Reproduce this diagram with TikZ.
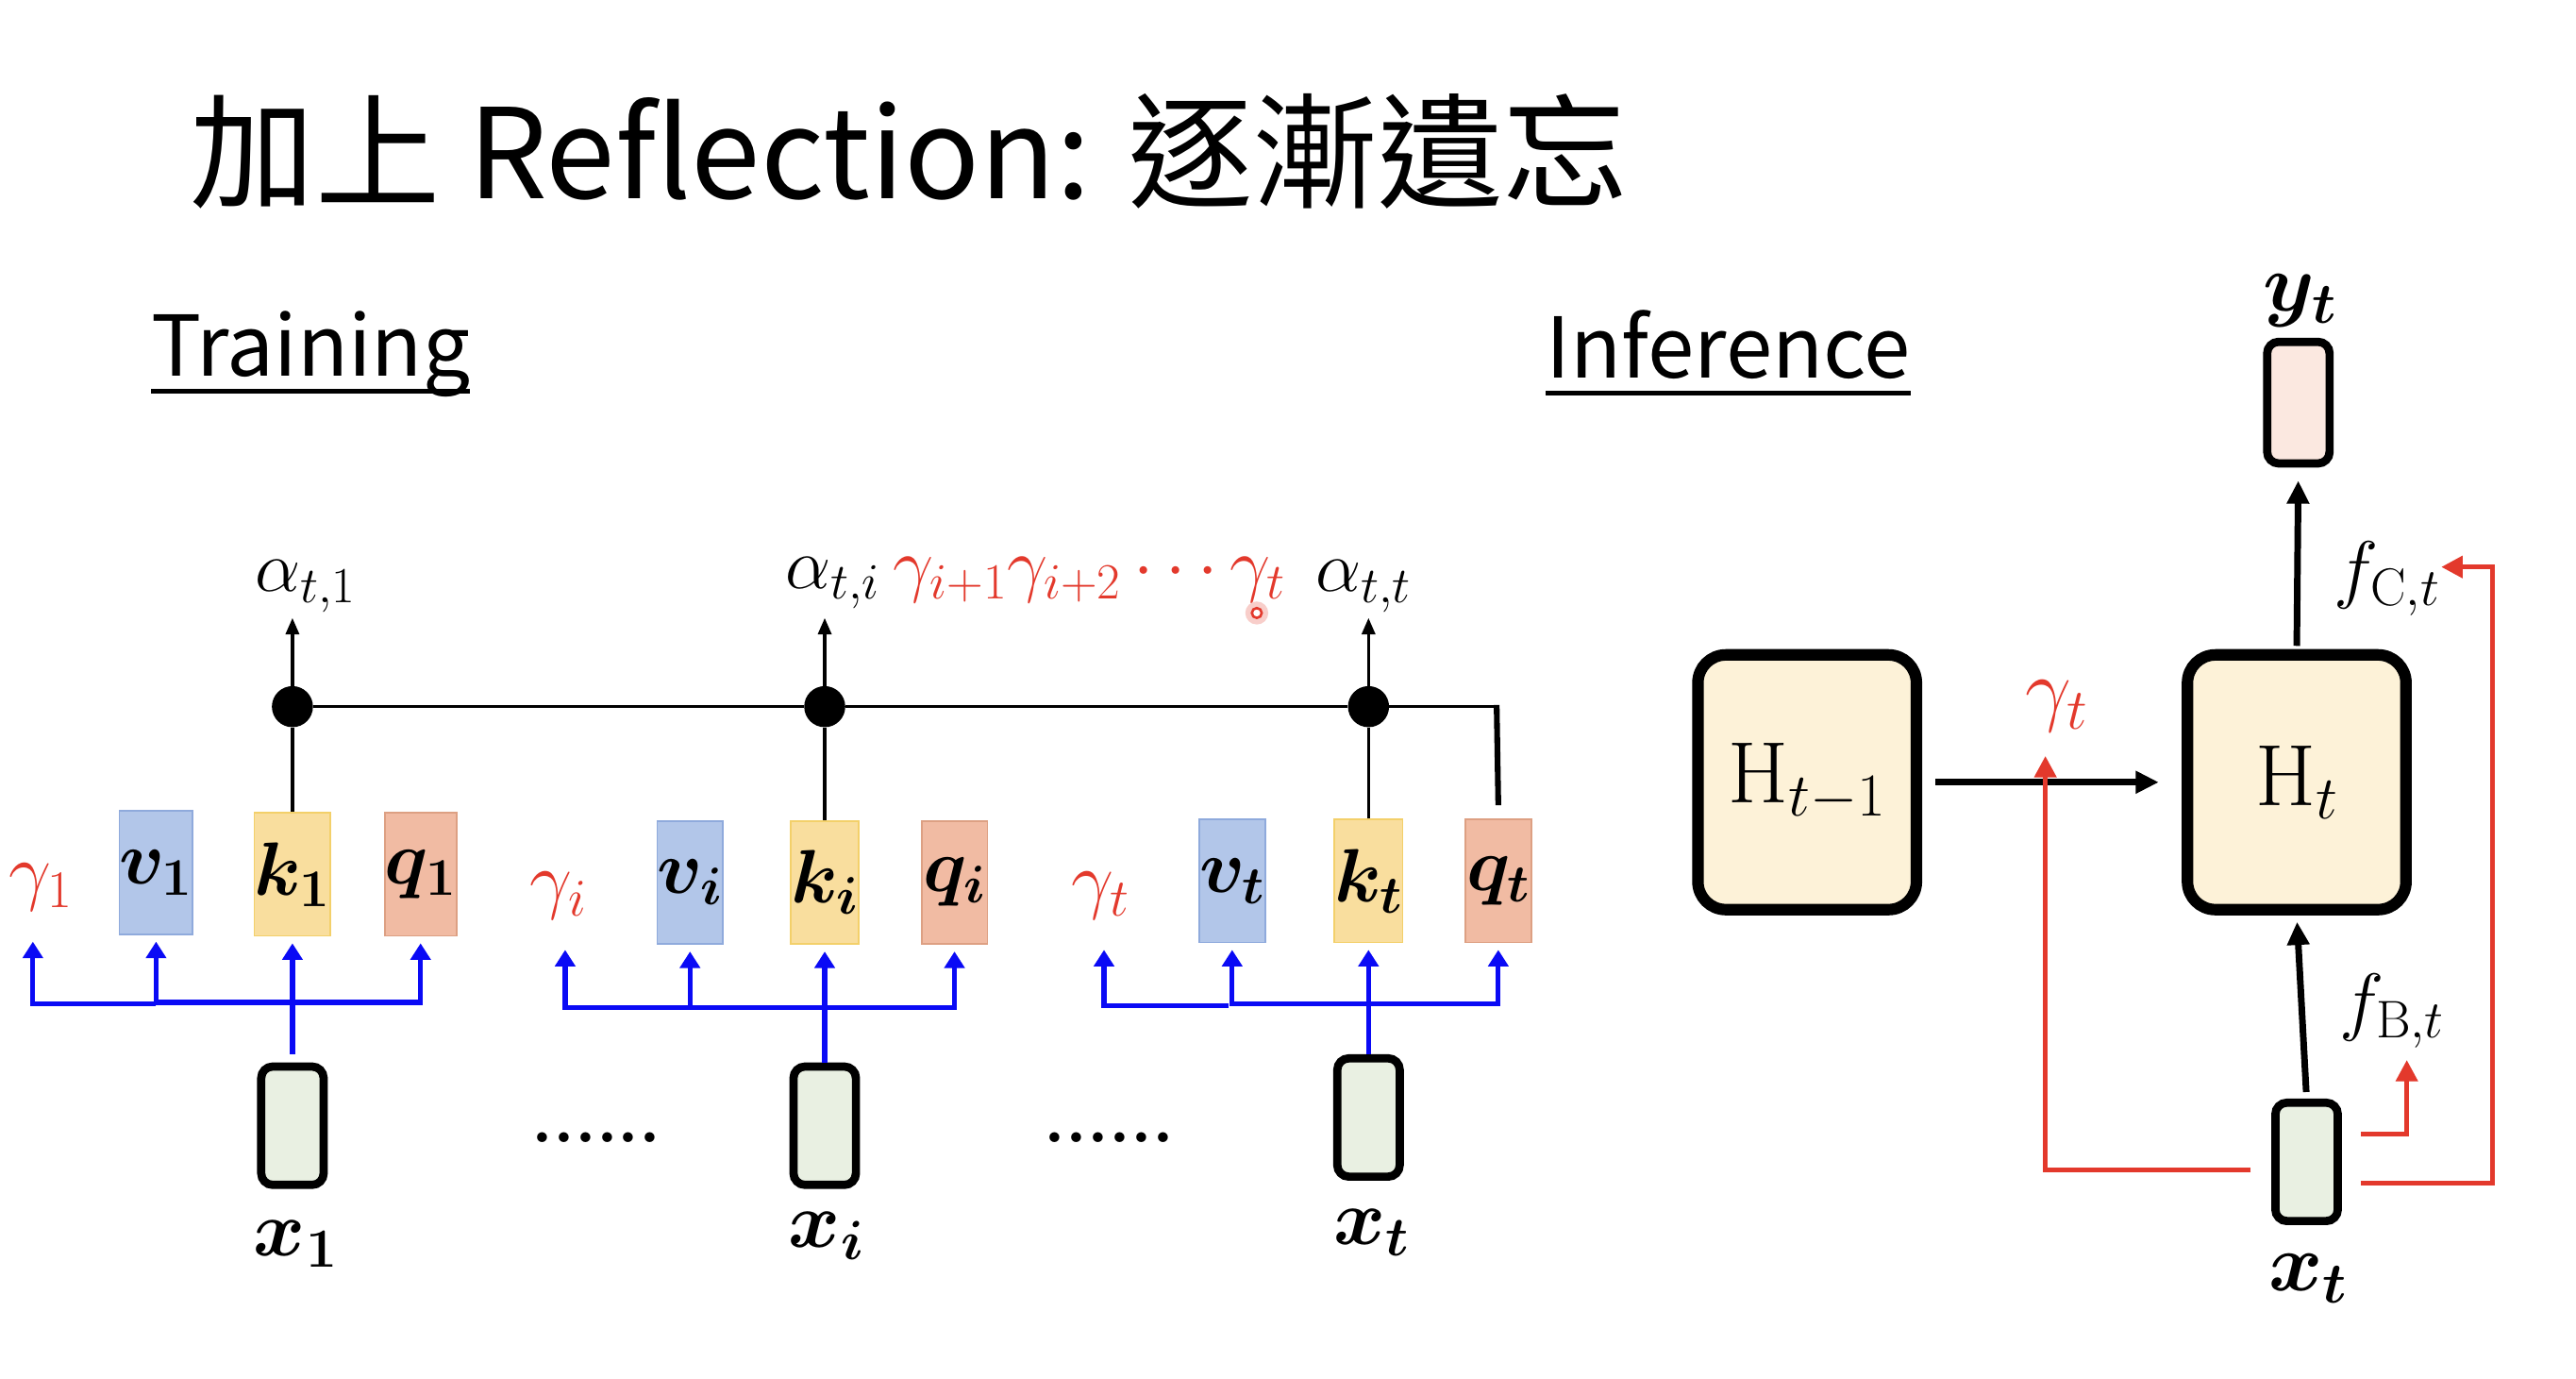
\RequirePackage{fix-cm}
\documentclass[tikz,border=0pt]{standalone}
\usepackage{amsmath,bm}
\usepackage{fontspec}
\newfontfamily\cjk{Noto Sans CJK TC}
\usetikzlibrary{arrows.meta,calc}
\definecolor{pred}{HTML}{E3392C}
\definecolor{pblue}{HTML}{0A0AF5}
\definecolor{vfill}{HTML}{B2C6E9}
\definecolor{vdraw}{HTML}{8FAADC}
\definecolor{kfill}{HTML}{F9DE9E}
\definecolor{kdraw}{HTML}{F3D06A}
\definecolor{qfill}{HTML}{F1BBA3}
\definecolor{qdraw}{HTML}{DDA083}
\definecolor{xfill}{HTML}{E9F0E2}
\definecolor{hfill}{HTML}{FDF2D8}
\definecolor{yfill}{HTML}{FBE8E0}
\begin{document}
\begin{tikzpicture}[x=1pt,y=-1pt,
  txt/.style={inner sep=0pt,outer sep=0pt},
  mbox/.style={line width=1pt,minimum width=40pt,minimum height=75pt,inner sep=0pt,
    font=\fontsize{46}{48}\selectfont},
  vbox/.style={mbox,draw=vdraw,fill=vfill},
  kbox/.style={mbox,draw=kdraw,fill=kfill},
  qbox/.style={mbox,draw=qdraw,fill=qfill},
  xbox/.style={draw=black,fill=xfill,line width=5pt,rounded corners=7pt,minimum width=38pt,minimum height=72pt,inner sep=0pt},
  hbox/.style={draw=black,fill=hfill,line width=7pt,rounded corners=17pt,minimum width=133pt,minimum height=155pt,inner sep=0pt,
    font=\fontsize{53}{55}\selectfont},
  dotn/.style={circle,fill=black,minimum width=25pt,minimum height=23pt,inner sep=0pt},
  glab/.style={txt,text=pred,font=\fontsize{46}{48}\selectfont},
  mlab/.style={txt,font=\fontsize{48}{50}\selectfont},
  alab/.style={txt,font=\fontsize{44}{46}\selectfont},
  blk/.style={line width=2pt,draw=black},
  blarrow/.style={line width=2pt,-{Triangle[length=10pt,width=8pt]}},
  bluearrow/.style={line width=3pt,draw=pblue,-{Triangle[length=10pt,width=12pt]}},
  blueline/.style={line width=3pt,draw=pblue},
  bigarrow/.style={line width=4pt,-{Triangle[length=14pt,width=13pt]}},
  redarrow/.style={line width=3pt,draw=pred,-{Triangle[length=13pt,width=13pt]}},
]
\path[use as bounding box,fill=white] (0,0) rectangle (1568,839);

% titles
\node[txt,anchor=base west,font=\cjk\fontsize{76}{80}\selectfont] (title) at (116,121) {加上 Reflection: 逐漸遺忘};
\node[txt,anchor=base west,font=\cjk\fontsize{51}{56}\selectfont] (train) at (92,229) {Training};
\draw[line width=3pt] ([yshift=-9pt]train.base west) -- ([yshift=-9pt]train.base east);
\node[txt,anchor=base west,font=\cjk\fontsize{51}{56}\selectfont] (infer) at (941,230) {Inference};
\draw[line width=3pt] ([yshift=-9pt]infer.base west) -- ([yshift=-9pt]infer.base east);

% ---------- group 1
\node[glab] (g1) at (25,540) {$\gamma_1$};
\node[vbox] (v1) at (95,531) {$\bm{v}_{\bm{1}}$};
\node[kbox] (k1) at (178,532) {$\bm{k}_{\bm{1}}$};
\node[qbox] (q1) at (256,532) {$\bm{q}_{\bm{1}}$};
\node[xbox] (x1) at (178,685) {};
\node[mlab] (x1l) at (180,757) {$\bm{x}_{\bm{1}}$};
\coordinate (b1) at (178,610);
\coordinate (s1) at (95,611);
\draw[blueline] (x1.north) ++(0,-5) -- (b1);
\draw[bluearrow,shorten >=4pt] (b1) -| (v1.south);
\draw[bluearrow,shorten >=4pt] (b1) -- (k1.south);
\draw[bluearrow,shorten >=4pt] (b1) -| (q1.south);
\draw[bluearrow] (s1) -| (20,573);

% ---------- group i
\node[glab] (gi) at (340,545) {$\gamma_i$};
\node[vbox] (vi) at (420,537) {$\bm{v}_{\bm{i}}$};
\node[kbox] (ki) at (502,537) {$\bm{k}_{\bm{i}}$};
\node[qbox] (qi) at (581,537) {$\bm{q}_{\bm{i}}$};
\node[xbox] (xi) at (502,685) {};
\node[mlab] (xil) at (503,752) {$\bm{x}_{\bm{i}}$};
\coordinate (bi) at (502,613);
\draw[blueline] (xi.north) -- (bi);
\draw[bluearrow,shorten >=4pt] (bi) -| (vi.south);
\draw[bluearrow,shorten >=4pt] (bi) -- (ki.south);
\draw[bluearrow,shorten >=4pt] (bi) -| (qi.south);
\draw[bluearrow] (bi) -| (344,578);

% ---------- group t
\node[glab] (gt) at (670,545) {$\gamma_t$};
\node[vbox] (vt) at (750,536) {$\bm{v}_{\bm{t}}$};
\node[kbox] (kt) at (833,536) {$\bm{k}_{\bm{t}}$};
\node[qbox] (qt) at (912,536) {$\bm{q}_{\bm{t}}$};
\node[xbox] (xt) at (833,680) {};
\node[mlab] (xtl) at (835,750) {$\bm{x}_{\bm{t}}$};
\coordinate (bt) at (833,611);
\coordinate (st) at (748,612);
\draw[blueline] (xt.north) -- (bt);
\draw[bluearrow,shorten >=4pt] (bt) -| (vt.south);
\draw[bluearrow,shorten >=4pt] (bt) -- (kt.south);
\draw[bluearrow,shorten >=4pt] (bt) -| (qt.south);
\draw[bluearrow] (st) -| (672,578);

% ellipses
\node[txt,font=\fontsize{42}{44}\selectfont\bfseries] (e1) at (363,692) {......};
\node[txt,font=\fontsize{42}{44}\selectfont\bfseries] (e2) at (675,692) {......};

% attention line
\node[dotn] (d1) at (178,430) {};
\node[dotn] (d2) at (502,430) {};
\node[dotn] (d3) at (833,430) {};
\draw[blk] (k1.north) -- (d1);
\draw[blk] (ki.north) -- (d2);
\draw[blk] (kt.north) -- (d3);
\draw[blk] (d1) -- (d2) -- (d3) -- (911,430);
\draw[line width=3.5pt] (911,429) -- ($(qt.north)+(0,-8)$);

\node[alab,anchor=base] (a1) at (186,360) {$\alpha_{t,1}$};
\node[alab,anchor=base] (ai) at (507,358) {$\alpha_{t,i}$};
\node[alab,anchor=base] (att) at (830,360) {$\alpha_{t,t}$};
\node[alab,anchor=base west,text=pred] (prod) at ([xshift=8pt]ai.base east) {$\gamma_{i+1}\gamma_{i+2}\cdots\gamma_t$};
\draw[blarrow] (d1) -- (178,376);
\draw[blarrow] (d2) -- (502,376);
\draw[blarrow] (d3) -- (833,376);
\fill[pred!25] (765,373) circle (7pt);
\draw[pred,line width=1.5pt,fill=white] (765,373) circle (3pt);

% ---------- inference
\node[hbox] (hp) at (1100,476) {$\mathrm{H}_{t-1}$};
\node[hbox] (ht) at (1398,476) {$\mathrm{H}_t$};
\node[draw=black,fill=yfill,line width=5pt,rounded corners=7pt,minimum width=38pt,minimum height=74pt,inner sep=0pt] (yt) at (1399,245) {};
\node[mlab,font=\fontsize{50}{52}\selectfont] (ytl) at (1400,183) {$\bm{y}_{\bm{t}}$};
\node[xbox] (xin) at (1404,707) {};
\node[mlab,font=\fontsize{50}{52}\selectfont] (xinl) at (1405,778) {$\bm{x}_{\bm{t}}$};
\node[glab,font=\fontsize{50}{52}\selectfont] (gin) at (1252,430) {$\gamma_t$};
\node[alab,font=\fontsize{46}{48}\selectfont] (fc) at (1453,352) {$f_{\mathrm{C},t}$};
\node[alab,font=\fontsize{46}{48}\selectfont] (fb) at (1456,615) {$f_{\mathrm{B},t}$};

\draw[bigarrow,shorten <=8pt,shorten >=14pt] (hp.east) -- (ht.west);
\draw[bigarrow,shorten <=2pt,shorten >=8pt] (ht.north) -- (yt.south);
\draw[bigarrow,shorten <=4pt,shorten >=4pt] (xin.north) -- (ht.south);

\coordinate (rl) at (1370,712);
\coordinate (rlt) at (1245,460);
\draw[redarrow] (rl) -| (rlt);
\coordinate (rc) at (1437,720);
\coordinate (rct) at (1486,345);
\draw[redarrow] (rc) -- (1517,720) |- (rct);
\coordinate (rb) at (1437,690);
\coordinate (rbt) at (1465,645);
\draw[redarrow] (rb) -| (rbt);
\end{tikzpicture}
\end{document}
